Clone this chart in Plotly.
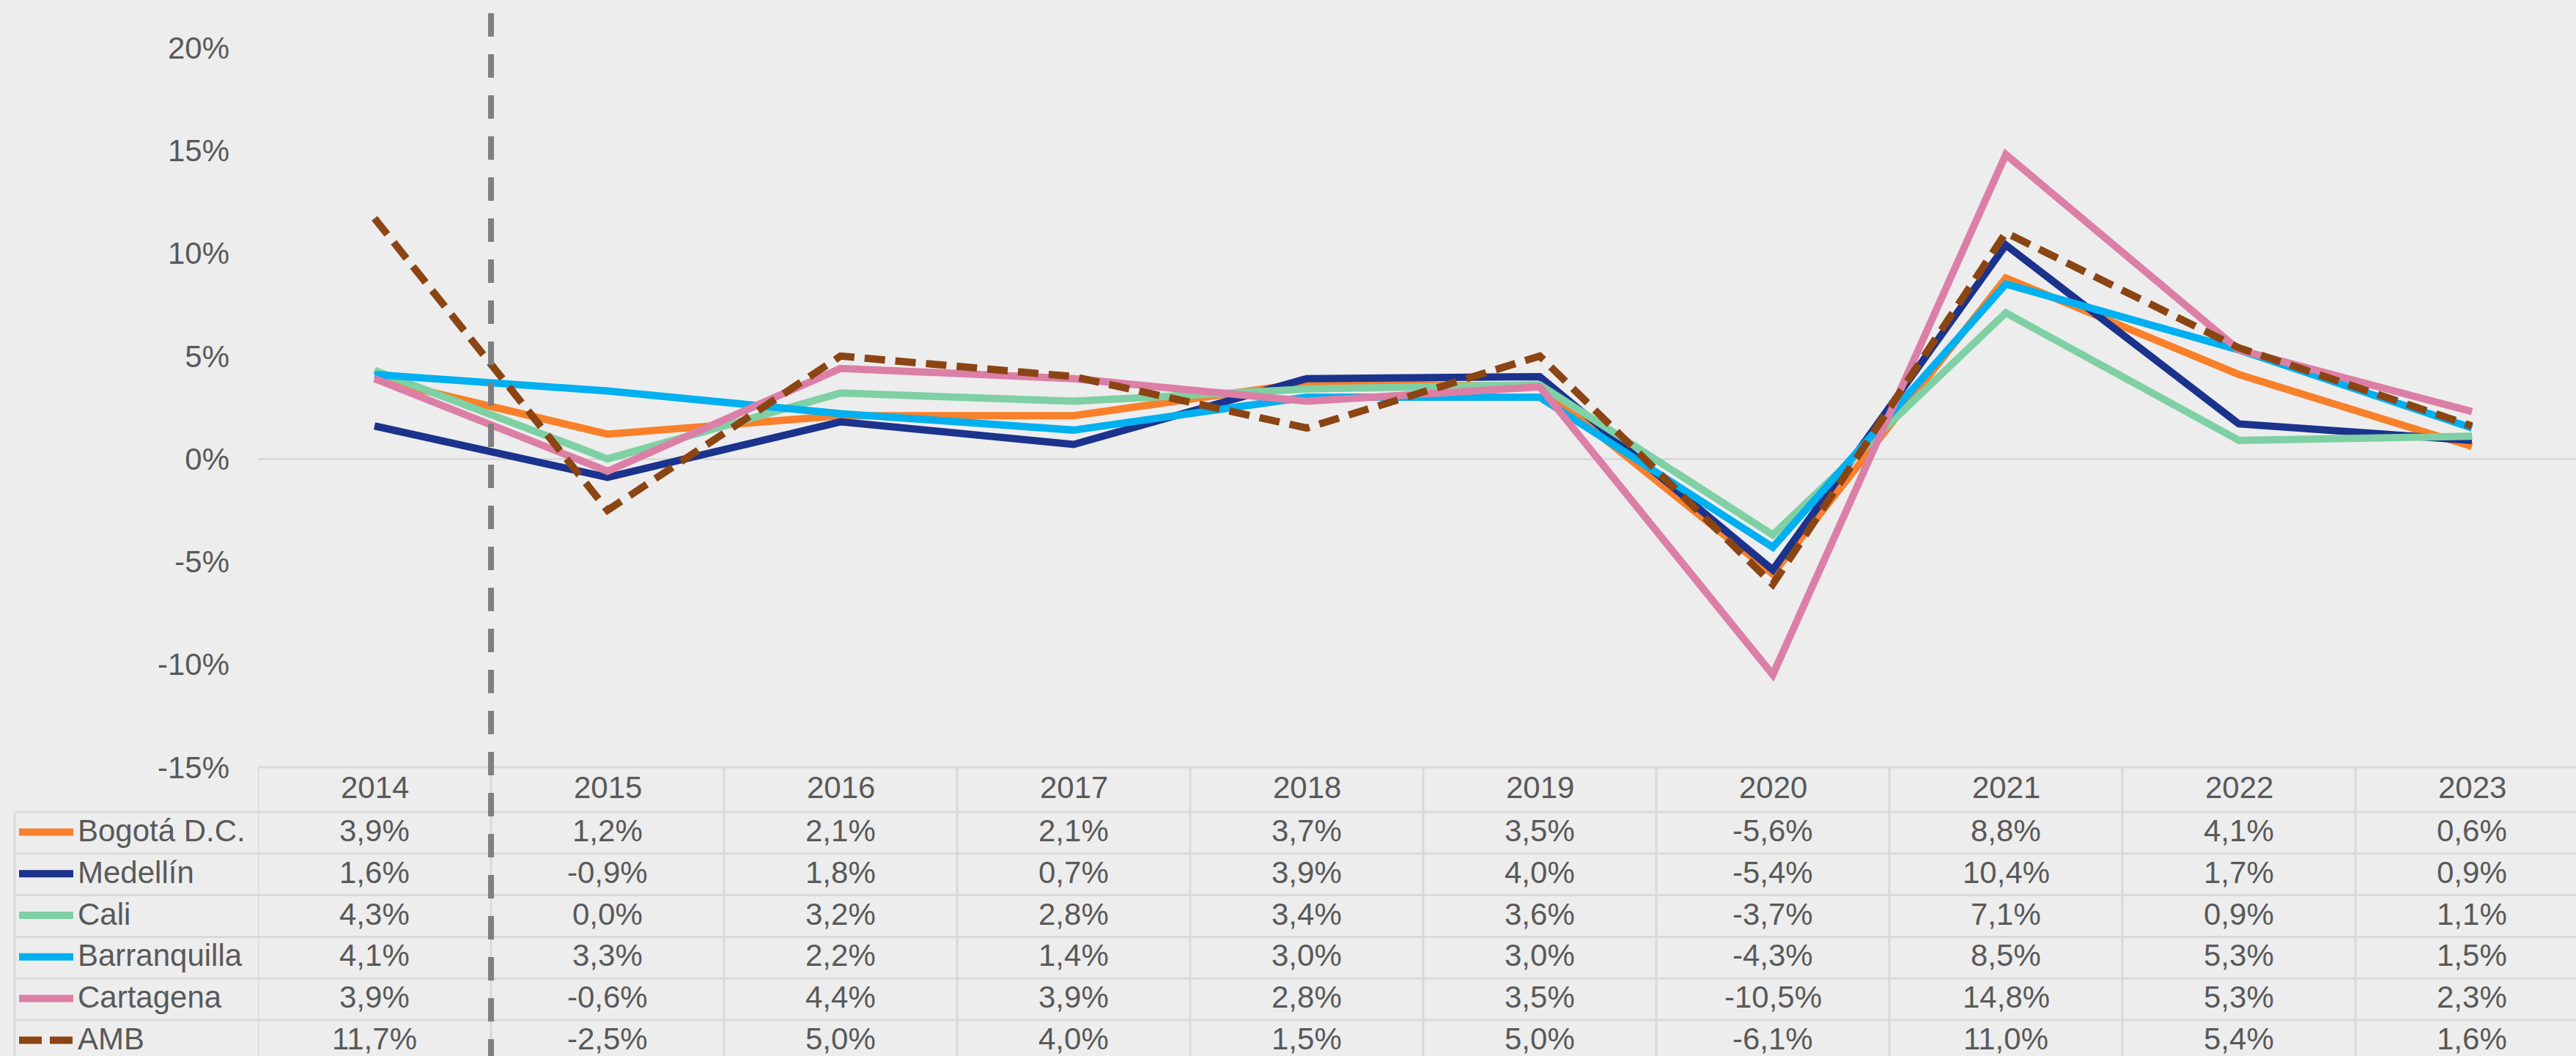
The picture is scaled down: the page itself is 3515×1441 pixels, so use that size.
import plotly.graph_objects as go

# ---------------- data ----------------
years = ["2014", "2015", "2016", "2017", "2018", "2019", "2020", "2021", "2022", "2023"]
series_names = ["Bogotá D.C.", "Medellín", "Cali", "Barranquilla", "Cartagena", "AMB"]
bogota = [3.9, 1.2, 2.1, 2.1, 3.7, 3.5, -5.6, 8.8, 4.1, 0.6]
medellin = [1.6, -0.9, 1.8, 0.7, 3.9, 4.0, -5.4, 10.4, 1.7, 0.9]
cali = [4.3, 0.0, 3.2, 2.8, 3.4, 3.6, -3.7, 7.1, 0.9, 1.1]
barranquilla = [4.1, 3.3, 2.2, 1.4, 3.0, 3.0, -4.3, 8.5, 5.3, 1.5]
cartagena = [3.9, -0.6, 4.4, 3.9, 2.8, 3.5, -10.5, 14.8, 5.3, 2.3]
amb = [11.7, -2.5, 5.0, 4.0, 1.5, 5.0, -6.1, 11.0, 5.4, 1.6]
series_values = [bogota, medellin, cali, barranquilla, cartagena, amb]
y_tickvals = [-15, -10, -5, 0, 5, 10, 15, 20]
y_ticktext = ["-15%", "-10%", "-5%", "0%", "5%", "10%", "15%", "20%"]

# ---------------- style ----------------
colors = ["#F9802A", "#1B338C", "#7FD0A4", "#00B0F0", "#DC7FA7", "#8B4513"]
dashes = ["solid", "solid", "solid", "solid", "solid", "28px,14px"]
TEXT = "#595959"
GRID = "#d9d9d9"
BG = "#ededed"
FONT = "Liberation Sans, Arial, sans-serif"
FS = 42

W, H = 3515, 1441
ML, MR, MT, MB = 352, 0, 65, 394
PW, PH = W - ML - MR, H - MT - MB
CAT_W = 318.0  # pixel width of a category
x_hi = -0.5 + PW / CAT_W


def py(pix):  # pixel y -> paper y
    return (H - MB - pix) / PH


def px(pix):  # pixel x -> paper x
    return (pix - ML) / PW


# table geometry (pixels)
table_top = H - MB
header_h = 61
row_h = 56.8
table_left = 20
text_lift = 3

fig = go.Figure()
for name, vals, c, d in zip(series_names, series_values, colors, dashes):
    fig.add_trace(go.Scatter(x=years, y=vals, mode="lines", name=name,
                             line=dict(color=c, width=10, dash=d),
                             showlegend=False, hoverinfo="skip"))

shapes = []
annotations = []

# horizontal table lines
shapes.append(dict(type="line", xref="paper", yref="paper", x0=0, x1=1,
                   y0=py(table_top), y1=py(table_top),
                   line=dict(color=GRID, width=3), layer="below"))
n_rows = len(series_names)
for r in range(n_rows + 1):
    yy = table_top + header_h + r * row_h
    shapes.append(dict(type="line", xref="paper", yref="paper", x0=px(table_left), x1=1,
                       y0=py(yy), y1=py(yy), line=dict(color=GRID, width=3), layer="below"))
# vertical table lines
for i in range(len(years) + 1):
    xv = i - 0.5
    shapes.append(dict(type="line", xref="x", yref="paper", x0=xv, x1=xv,
                       y0=py(table_top), y1=py(H + 20),
                       line=dict(color=GRID, width=3), layer="below"))
shapes.append(dict(type="line", xref="paper", yref="paper", x0=px(table_left), x1=px(table_left),
                   y0=py(table_top + header_h), y1=py(H + 20),
                   line=dict(color=GRID, width=3), layer="below"))

# header years
for i, yr in enumerate(years):
    annotations.append(dict(x=i, xref="x", y=py(table_top + header_h / 2 - text_lift), yref="paper",
                            text=yr, showarrow=False, xanchor="center", yanchor="middle",
                            font=dict(family=FONT, size=FS, color=TEXT)))
# values + row labels + legend keys
for r, (name, vals, c) in enumerate(zip(series_names, series_values, colors)):
    yc = table_top + header_h + (r + 0.5) * row_h
    for i, v in enumerate(vals):
        annotations.append(dict(x=i, xref="x", y=py(yc - text_lift), yref="paper",
                                text=f"{v:.1f}%".replace(".", ","), showarrow=False,
                                xanchor="center", yanchor="middle",
                                font=dict(family=FONT, size=FS, color=TEXT)))
    annotations.append(dict(x=px(104), xref="paper", y=py(yc - text_lift), yref="paper", text=name,
                            showarrow=False, xanchor="left", yanchor="middle",
                            font=dict(family=FONT, size=FS, color=TEXT)))
    key_dash = "31px,11px" if name == "AMB" else "solid"
    shapes.append(dict(type="line", xref="paper", yref="paper", x0=px(26), x1=px(100),
                       y0=py(yc - 1), y1=py(yc - 1),
                       line=dict(color=c, width=10, dash=key_dash)))

# vertical dashed separator between 2014 and 2015
shapes.append(dict(type="line", xref="x", yref="paper", x0=0.5, x1=0.5,
                   y0=py(18), y1=py(H + 20),
                   line=dict(color="#808080", width=8, dash="32px,24px"), layer="above"))

fig.update_layout(
    width=W, height=H,
    margin=dict(l=ML, r=MR, t=MT, b=MB, pad=0),
    paper_bgcolor=BG, plot_bgcolor="rgba(0,0,0,0)",
    font=dict(family=FONT, size=FS, color=TEXT),
    xaxis=dict(type="category", range=[-0.5, x_hi], showgrid=False, zeroline=False,
               showline=False, showticklabels=False, ticks=""),
    yaxis=dict(range=[-15, 20], tickvals=y_tickvals, ticktext=y_ticktext,
               showgrid=False, zeroline=True, zerolinecolor=GRID, zerolinewidth=3,
               showline=False, ticks="", ticklabelstandoff=38,
               tickfont=dict(family=FONT, size=FS, color=TEXT)),
    shapes=shapes, annotations=annotations,
)

fig.write_html("out.html", config={"displayModeBar": False},
               post_script="document.body.style.margin='0';document.body.style.overflow='hidden';")
